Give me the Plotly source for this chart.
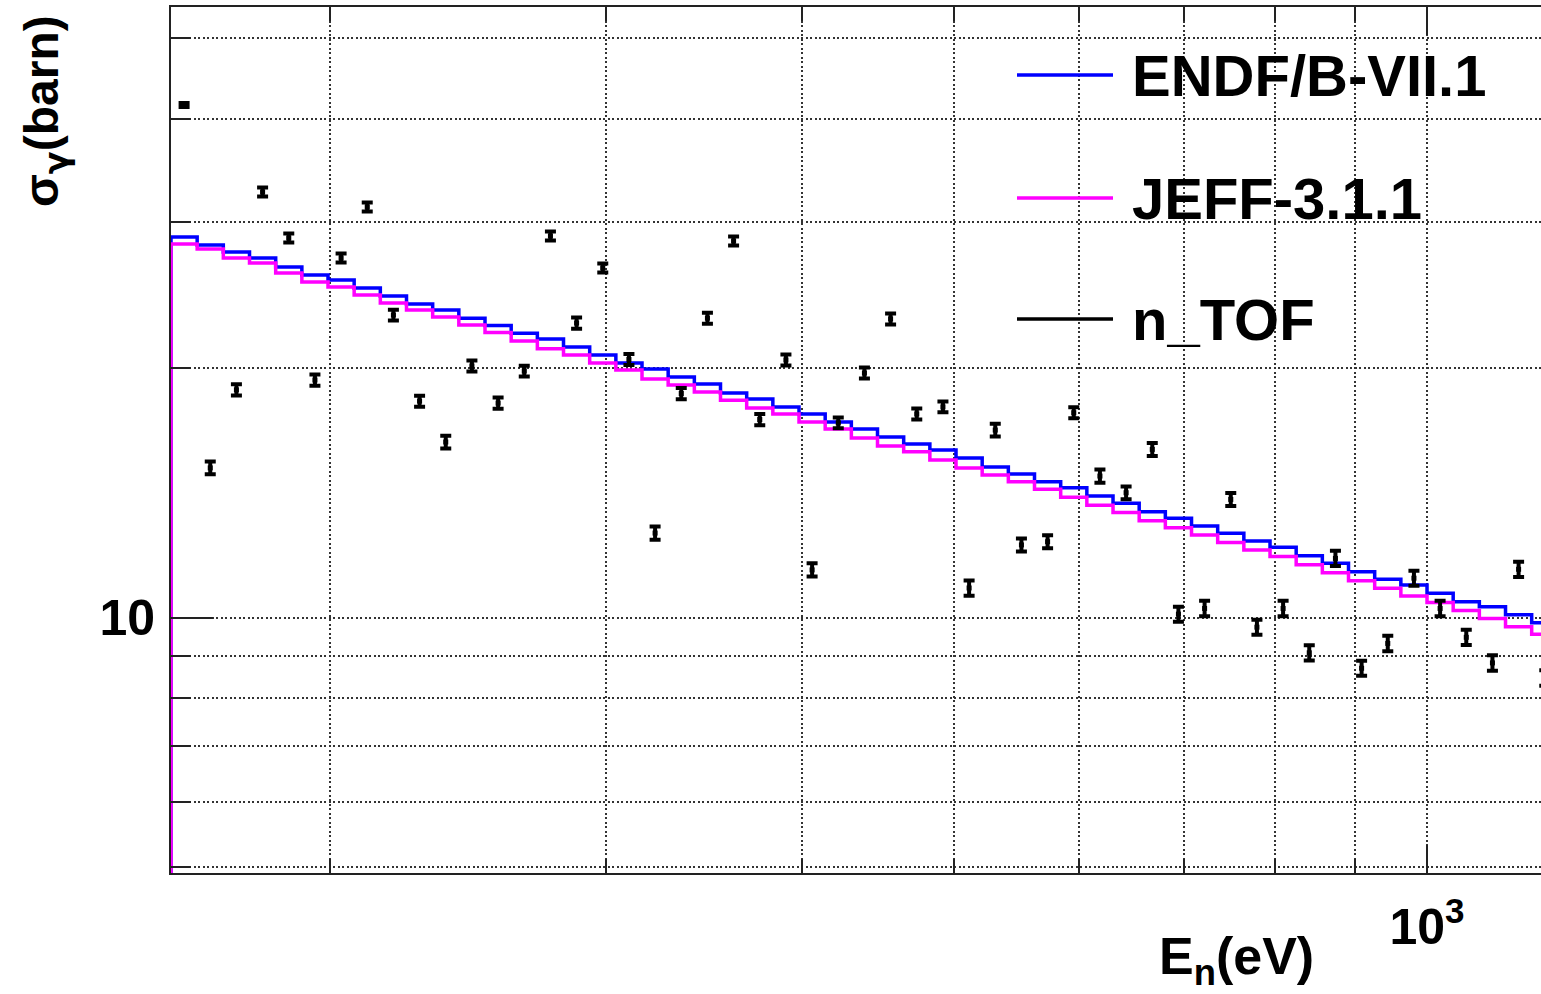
import numpy as np
import plotly.graph_objects as go

# ---------------- data ----------------
# histogram bin edges (eV), 60 log bins per decade starting at 10^2.2
bin_edges = [158.49, 164.69, 171.13, 177.83, 184.79, 192.02, 199.53, 207.33, 215.44, 223.87,
             232.63, 241.73, 251.19, 261.02, 271.23, 281.84, 292.87, 304.33, 316.23, 328.60,
             341.46, 354.81, 368.70, 383.12, 398.11, 413.69, 429.87, 446.68, 464.16, 482.33,
             501.19, 520.80, 541.17, 562.34, 584.35, 607.20, 630.96, 655.65, 681.29, 707.95,
             735.64, 764.42, 794.33, 825.40, 857.70, 891.25, 926.12, 962.36, 1000.00, 1039.12,
             1079.78, 1122.02, 1165.91, 1211.53]

endf = [28.79, 28.16, 27.61, 27.16, 26.49, 25.91, 25.55, 24.99, 24.44, 23.90,
        23.50, 22.98, 22.51, 22.04, 21.68, 21.21, 20.74, 20.29, 19.95, 19.51,
        19.14, 18.66, 18.36, 17.96, 17.61, 17.22, 16.89, 16.52, 16.20, 15.93,
        15.58, 15.20, 14.90, 14.59, 14.35, 14.02, 13.74, 13.42, 13.18, 12.90,
        12.64, 12.37, 12.16, 11.88, 11.63, 11.36, 11.13, 10.95, 10.70, 10.45,
        10.31, 10.08, 9.86]

jeff = [28.23, 27.85, 27.16, 26.79, 26.05, 25.41, 25.06, 24.51, 23.97, 23.50,
        23.05, 22.54, 22.08, 21.57, 21.10, 20.74, 20.29, 19.90, 19.41, 19.09,
        18.72, 18.30, 17.91, 17.61, 17.22, 16.89, 16.47, 16.11, 15.85, 15.50,
        15.16, 14.86, 14.59, 14.29, 13.97, 13.67, 13.39, 13.09, 12.84, 12.58,
        12.32, 12.07, 11.85, 11.58, 11.33, 11.08, 10.85, 10.62, 10.43, 10.20,
        9.98, 9.75, 9.55]

ntof = [41.55, 15.16, 18.83, 32.62, 28.71, 19.35, 27.16, 31.29, 23.18, 18.25,
        16.29, 20.12, 18.15, 19.84, 28.87, 22.67, 26.42, 20.49, 12.65, 18.64,
        22.98, 28.47, 17.34, 20.46, 11.42, 17.18, 19.73, 22.93, 17.61, 17.96,
        10.86, 16.84, 12.24, 12.35, 17.67, 14.82, 14.15, 15.96, 10.10, 10.26,
        13.89, 9.74, 10.26, 9.07, 11.79, 8.69, 9.31, 11.16, 10.26, 9.47,
        8.82, 11.44, 8.46]

ntof_err = [0.23, 0.27, 0.29, 0.41, 0.36, 0.30, 0.34, 0.39, 0.35, 0.28,
            0.29, 0.31, 0.28, 0.30, 0.36, 0.35, 0.33, 0.31, 0.23, 0.29,
            0.35, 0.36, 0.27, 0.31, 0.21, 0.26, 0.30, 0.35, 0.27, 0.27,
            0.23, 0.30, 0.22, 0.22, 0.27, 0.27, 0.25, 0.29, 0.21, 0.22,
            0.25, 0.20, 0.22, 0.19, 0.25, 0.18, 0.20, 0.23, 0.22, 0.20,
            0.19, 0.24, 0.18]

HIST_BASELINE = 1.0  # histogram drawn from below the axis floor

x_major_ticks = [1000]
x_major_text = ["<b>10<sup>3</sup></b>"]
x_minor_ticks = [200, 300, 400, 500, 600, 700, 800, 900]
y_major_ticks = [10]
y_major_text = ["<b>10</b>"]
y_minor_ticks = [5, 6, 7, 8, 9, 20, 30, 40, 50]

legend_labels = ["ENDF/B-VII.1", "JEFF-3.1.1", "n_TOF"]
colors = ["#0000ff", "#ff00ff", "#000000"]

# ---------------- figure ----------------
edges = np.array(bin_edges)
centers = np.sqrt(edges[:-1] * edges[1:])


def step_xy(vals):
    xs = [edges[0]] + list(edges[:-1]) + [edges[len(vals)]]
    ys = [HIST_BASELINE] + list(vals) + [vals[-1]]
    return xs, ys


fig = go.Figure()
for vals, col, name in [(endf, colors[0], legend_labels[0]), (jeff, colors[1], legend_labels[1])]:
    xs, ys = step_xy(vals)
    fig.add_trace(go.Scatter(x=xs, y=ys, mode="lines", line=dict(color=col, width=3.5, shape="hv"),
                             name=name, showlegend=False, hoverinfo="skip"))

fig.add_trace(go.Scatter(
    x=centers[:len(ntof)], y=ntof, mode="markers", name=legend_labels[2], showlegend=False,
    marker=dict(color="black", size=5, symbol="square"),
    error_y=dict(type="data", array=ntof_err, color="black", thickness=4, width=5.5),
))

FONT = "Liberation Sans, Arial, Helvetica, sans-serif"
AX = "#222222"
GRID = "#333333"
GDASH = "2px,2.5px"

W, H = 1541, 994
ML, MR, MT, MB = 171, 0, 7, 121
PW, PH = W - ML - MR, H - MT - MB


def px(x):
    return (x - ML) / PW


def py(y):
    return (H - MB - y) / PH


fig.update_layout(
    width=W, height=H, autosize=False,
    margin=dict(l=ML, r=MR, t=MT, b=MB, pad=0),
    paper_bgcolor="white", plot_bgcolor="white",
    font=dict(family=FONT, color="black"),
    showlegend=False,
    xaxis=dict(
        type="log", range=[2.2, 3.0726],
        showline=True, linecolor=AX, linewidth=2, mirror="ticks",
        tickmode="array", tickvals=x_major_ticks, ticktext=x_major_text,
        ticks="inside", ticklen=28, tickwidth=2, tickcolor=AX,
        tickfont=dict(size=50, family=FONT, color="black"),
        ticklabelstandoff=9,
        showgrid=True, gridcolor=GRID, gridwidth=1.5, griddash=GDASH,
        minor=dict(tickmode="array", tickvals=x_minor_ticks, ticks="inside", ticklen=14,
                   tickwidth=2, tickcolor=AX, showgrid=True, gridcolor=GRID,
                   gridwidth=1.5, griddash=GDASH),
        zeroline=False,
    ),
    yaxis=dict(
        type="log", range=[0.692, 1.7367],
        showline=True, linecolor=AX, linewidth=2, mirror=False,
        tickmode="array", tickvals=y_major_ticks, ticktext=y_major_text,
        ticks="inside", ticklen=42, tickwidth=2, tickcolor=AX,
        tickfont=dict(size=50, family=FONT, color="black"),
        ticklabelstandoff=4,
        showgrid=True, gridcolor=GRID, gridwidth=1.5, griddash=GDASH,
        minor=dict(tickmode="array", tickvals=y_minor_ticks, ticks="inside", ticklen=20,
                   tickwidth=2, tickcolor=AX, showgrid=True, gridcolor=GRID,
                   gridwidth=1.5, griddash=GDASH),
        zeroline=False,
    ),
)

# axis titles (ROOT style: aligned to axis ends)
fig.add_annotation(text="<b>σ<sub><span style='font-family:DejaVu Sans'>γ</span></sub>(barn)</b>",
                   xref="paper", yref="paper",
                   x=px(45), y=py(13), xanchor="center", yanchor="top", textangle=-90,
                   showarrow=False, font=dict(size=48, family=FONT, color="black"))
fig.add_annotation(text="<b>E<sub>n</sub>(eV)</b>", xref="paper", yref="paper",
                   x=px(1316), y=py(925), xanchor="right", yanchor="top",
                   showarrow=False, font=dict(size=52, family=FONT, color="black"))

# legend (ROOT TLegend look)
leg_y = [75, 198, 319]
for lab, col, yy in zip(legend_labels, colors, leg_y):
    fig.add_shape(type="line", xref="paper", yref="paper", x0=px(1017), x1=px(1113),
                  y0=py(yy), y1=py(yy), line=dict(color=col, width=3.5))
    fig.add_annotation(text="<b>%s</b>" % lab, xref="paper", yref="paper", x=px(1130), y=py(yy),
                       xanchor="left", yanchor="middle", showarrow=False,
                       font=dict(size=58, family=FONT, color="black"))

fig.write_html("out.html", config={"displayModeBar": False},
               post_script="document.body.style.margin='0';document.body.style.overflow='hidden';")
